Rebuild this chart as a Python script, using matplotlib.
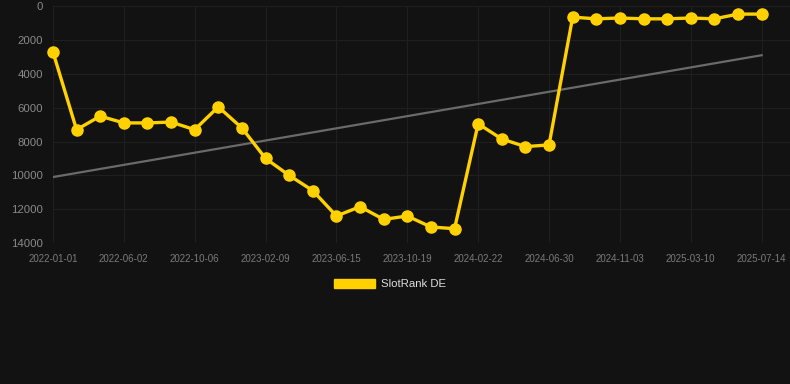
import matplotlib.pyplot as plt
import numpy as np

# data
tick_labels = ['2022-01-01', '2022-06-02', '2022-10-06', '2023-02-09', '2023-06-15',
               '2023-10-19', '2024-02-22', '2024-06-30', '2024-11-03', '2025-03-10',
               '2025-07-14']
rank = [2700, 7300, 6500, 6900, 6900, 6850, 7300, 5950, 7200, 9000,
        10000, 10900, 12400, 11850, 12600, 12400, 13050, 13150, 6950, 7850,
        8300, 8200, 650, 750, 700, 750, 750, 700, 750, 470,
        470]
trend = [10100, 2900]

bg = '#121212'
gold = '#FFD100'

plt.rcParams['font.family'] = ['Liberation Sans', 'DejaVu Sans']
fig = plt.figure(figsize=(7.9, 3.84), dpi=100, facecolor=bg)
ax = fig.add_axes([0.067, 0.367, 0.933, 0.617], facecolor=bg)

x = np.arange(len(rank))
ax.plot([x[0], x[-1]], trend, color='#6a6a6a', lw=1.6, zorder=2)
ax.plot(x, rank, color=gold, lw=2.4, marker='o', ms=8, clip_on=False, zorder=3,
        label='SlotRank DE')

ax.set_xlim(0, 31.2)
ax.set_ylim(14000, 0)
ax.set_yticks(np.arange(0, 14001, 2000))
ax.set_xticks(x[::3])
ax.set_xticklabels(tick_labels)
ax.grid(True, color='#1f1f1f', lw=0.8)
ax.set_axisbelow(True)
for s in ax.spines.values():
    s.set_visible(False)
ax.tick_params(axis='y', colors='#8a8a8a', labelsize=8.2, length=0, pad=7)
ax.tick_params(axis='x', colors='#7a7a7a', labelsize=7, length=0, pad=8)

leg = fig.legend(handles=[plt.Rectangle((0, 0), 1, 1, color=gold)], labels=['SlotRank DE'],
                 loc='center', bbox_to_anchor=(0.494, 0.26), frameon=False,
                 handlelength=3.6, handleheight=0.9, handletextpad=0.5, fontsize=8.2)
for t in leg.get_texts():
    t.set_color('#dddddd')

fig.savefig('out.png', dpi=100, facecolor=bg)
